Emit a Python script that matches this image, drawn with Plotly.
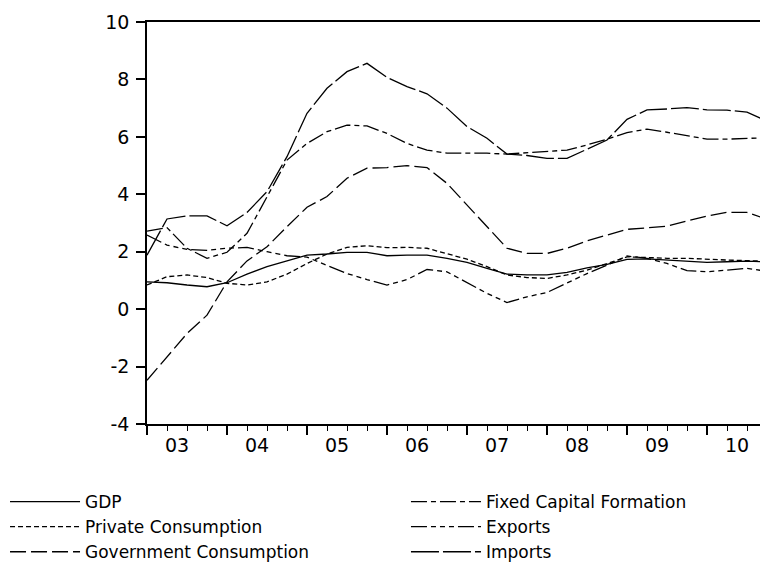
import plotly.graph_objects as go

# ---- data ----
quarters = [f"{y}Q{q}" for y in range(2003, 2011) for q in range(1, 5)]
year_labels = ["03", "04", "05", "06", "07", "08", "09", "10"]
y_tick_values = [-4, -2, 0, 2, 4, 6, 8, 10]
y_tick_labels = ["-4", "-2", "0", "2", "4", "6", "8", "10"]

gdp = [0.95, 0.92, 0.84, 0.78, 0.92, 1.22, 1.48, 1.68, 1.88, 1.92, 1.98, 1.98,
       1.86, 1.88, 1.88, 1.77, 1.63, 1.42, 1.22, 1.19, 1.19, 1.28, 1.44, 1.56,
       1.73, 1.75, 1.71, 1.67, 1.63, 1.65, 1.67, 1.65]
private_consumption = [0.84, 1.13, 1.19, 1.10, 0.90, 0.84, 0.95, 1.22, 1.59, 1.92, 2.15, 2.21,
                       2.14, 2.15, 2.12, 1.94, 1.74, 1.48, 1.19, 1.10, 1.07, 1.19, 1.36, 1.59,
                       1.82, 1.80, 1.77, 1.77, 1.73, 1.71, 1.69, 1.67]
government_consumption = [-2.48, -1.66, -0.85, -0.21, 0.95, 1.68, 2.17, 2.87, 3.55, 3.92, 4.56, 4.91,
                          4.93, 5.00, 4.93, 4.38, 3.63, 2.87, 2.12, 1.94, 1.94, 2.12, 2.38, 2.58,
                          2.78, 2.83, 2.89, 3.07, 3.24, 3.37, 3.37, 3.13]
fixed_capital_formation = [2.72, 2.84, 2.12, 1.77, 1.98, 2.64, 3.91, 5.19, 5.77, 6.18, 6.41, 6.38,
                           6.12, 5.77, 5.54, 5.43, 5.43, 5.43, 5.40, 5.45, 5.48, 5.54, 5.72, 5.92,
                           6.15, 6.27, 6.16, 6.03, 5.92, 5.92, 5.95, 5.97]
exports = [2.58, 2.23, 2.08, 2.05, 2.12, 2.15, 2.00, 1.86, 1.81, 1.53, 1.24, 1.03,
           0.84, 1.03, 1.38, 1.30, 0.92, 0.55, 0.23, 0.43, 0.58, 0.90, 1.24, 1.53,
           1.85, 1.77, 1.59, 1.34, 1.30, 1.36, 1.42, 1.32]
imports = [1.88, 3.14, 3.25, 3.25, 2.90, 3.37, 4.09, 5.31, 6.82, 7.69, 8.27, 8.56,
           8.07, 7.75, 7.50, 7.00, 6.36, 5.95, 5.40, 5.35, 5.25, 5.25, 5.57, 5.89,
           6.61, 6.94, 6.97, 7.02, 6.94, 6.93, 6.86, 6.55]

# numeric time axis (year + quarter fraction)
x = [int(s[:4]) + (int(s[-1]) - 1) / 4 for s in quarters]
years = sorted({int(s[:4]) for s in quarters})

FONT = "DejaVu Sans"
series = [
    ("GDP", gdp, "solid", "legend"),
    ("Private Consumption", private_consumption, "5px,3px", "legend"),
    ("Government Consumption", government_consumption, "16px,5px", "legend"),
    ("Fixed Capital Formation", fixed_capital_formation, "16px,4px,5px,4px", "legend2"),
    ("Exports", exports, "16px,4px,5px,4px,5px,4px,5px,4px", "legend2"),
    ("Imports", imports, "28px,4px", "legend2"),
]

fig = go.Figure()
for name, vals, dash, lg in series:
    fig.add_trace(go.Scatter(
        x=x, y=vals, mode="lines", name=name, legend=lg,
        line=dict(color="black", width=1.3, dash=dash),
    ))

# the page body adds an 8px offset; margins compensate for it
x_range = [x[0], x[-1]]
fig.update_layout(
    width=768, height=572,
    margin=dict(l=139, r=9, t=14, b=156, autoexpand=False),
    paper_bgcolor="white", plot_bgcolor="white",
    font=dict(family=FONT, size=18, color="black"),
    showlegend=True,
    xaxis=dict(
        range=x_range, showgrid=False, zeroline=False,
        showline=True, mirror=True, linecolor="black", linewidth=1.5,
        tickmode="array", tickvals=years, ticks="outside", ticklen=9,
        tickwidth=1.5, tickcolor="black", showticklabels=False,
        minor=dict(tickmode="linear", tick0=x[0], dtick=0.25, ticks="outside",
                   ticklen=5, tickwidth=1.2, tickcolor="black", showgrid=False),
    ),
    xaxis2=dict(
        overlaying="x", anchor="y", side="bottom", range=x_range,
        showgrid=False, zeroline=False, showline=False,
        tickmode="array", tickvals=[yr + 0.375 for yr in years], ticktext=year_labels,
        ticks="outside", ticklen=4, tickcolor="rgba(0,0,0,0)",
        tickfont=dict(family=FONT, size=19, color="black"),
    ),
    yaxis=dict(
        range=[-4, 10], tickmode="array", tickvals=y_tick_values, ticktext=y_tick_labels,
        showgrid=False, zeroline=False,
        showline=True, mirror=True, linecolor="black", linewidth=1.5,
        ticks="outside", ticklen=9, tickwidth=1.5, tickcolor="black",
        tickfont=dict(family=FONT, size=19, color="black"),
        ticklabelstandoff=3,
    ),
    legend=dict(
        xref="paper", yref="container", x=-0.229, y=1 - 476 / 572,
        xanchor="left", yanchor="top", bgcolor="rgba(0,0,0,0)",
        font=dict(family=FONT, size=17, color="black"),
        itemwidth=70, tracegroupgap=0,
    ),
    legend2=dict(
        xref="paper", yref="container", x=0.4177, y=1 - 476 / 572,
        xanchor="left", yanchor="top", bgcolor="rgba(0,0,0,0)",
        font=dict(family=FONT, size=17, color="black"),
        itemwidth=70, tracegroupgap=0,
    ),
)
# invisible helper trace so that the label axis (xaxis2) is rendered
fig.add_trace(go.Scatter(x=x_range, y=[None, None], xaxis="x2", yaxis="y",
                         showlegend=False, hoverinfo="skip"))

fig.write_html("out.html")
